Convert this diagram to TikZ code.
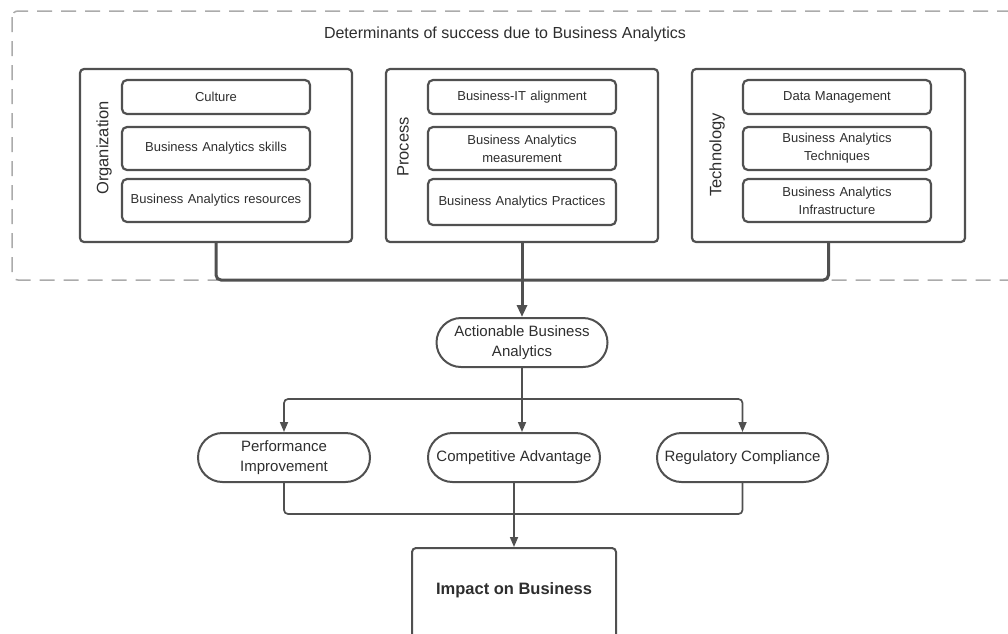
\documentclass[tikz,border=0pt]{standalone}
\usepackage{fontspec}
\setmainfont{Liberation Sans}
\usetikzlibrary{arrows.meta}
\usetikzlibrary{shapes.misc}
\definecolor{linegray}{HTML}{505050}
\definecolor{textgray}{HTML}{2E2E2E}
\definecolor{dashgray}{HTML}{ABABAB}
\tikzset{
  groupbox/.style={draw=linegray, line width=2.2pt, rounded corners=4pt,
    minimum width=#1, minimum height=173pt, inner sep=0pt},
  itembox/.style={draw=linegray, line width=2.2pt, rounded corners=5pt,
    minimum width=188pt, text width=180pt, align=center, inner sep=0pt,
    text=textgray, font=\fontsize{13}{18}\selectfont},
  sidelabel/.style={rotate=90, text=textgray, font=\fontsize{16.5}{19}\selectfont},
  pill/.style={draw=linegray, line width=2pt, rounded rectangle,
    minimum width=#1, minimum height=49pt, inner sep=0pt, align=center,
    text=textgray, font=\fontsize{15}{20.5}\selectfont},
  mainlink/.style={draw=linegray, line width=3pt, rounded corners=5pt,
    -{Triangle[length=12pt,width=10pt]}},
  link/.style={draw=linegray, line width=1.7pt, rounded corners=4pt,
    -{Triangle[length=10pt,width=8pt]}}
}

\begin{document}
\begin{tikzpicture}[x=1pt,y=-1pt]
\useasboundingbox (0,0) rectangle (1008,633);
\draw[dashgray, line width=1.5pt, dash pattern=on 15pt off 9pt, rounded corners=6pt]
(12,11) rectangle (1030,280);
\node at (505,34) [text=textgray, font=\fontsize{16}{19}\selectfont]{Determinants of success due to Business Analytics};

\node (org) at (216,155.5) [groupbox=272pt]{};
\node (proc) at (522,155.5) [groupbox=272pt]{};
\node (tech) at (828.5,155.5) [groupbox=273pt]{};
\node (orglab) at (104,148) [sidelabel]{Organization};
\node (proclab) at (403,147) [sidelabel]{Process};
\node (techlab) at (717,155) [sidelabel]{Technology};

\node (culture) at (216,97) [itembox, minimum height=34pt]{Culture};
\node (skills) at (216,148.5) [itembox, minimum height=43pt]{Business Analytics skills};
\node (resources) at (216,200.5) [itembox, minimum height=43pt]{Business Analytics resources};
\node (align) at (522,97) [itembox, minimum height=34pt]{Business-IT alignment};
\node (measure) at (522,148.5) [itembox, minimum height=43pt]{Business Analytics\\measurement};
\node (practice) at (522,202) [itembox, minimum height=46pt]{Business Analytics Practices};
\node (datamgmt) at (837,97) [itembox, minimum height=34pt]{Data Management};
\node (techniques) at (837,148.5) [itembox, minimum height=43pt]{Business Analytics\\Techniques};
\node (infra) at (837,200.5) [itembox, minimum height=43pt]{Business Analytics\\Infrastructure};

\node (aba) at (522,342.5) [pill=171pt]{Actionable Business\\Analytics};
\node (perf) at (284,457.5) [pill=172pt]{Performance\\Improvement};
\node (comp) at (514,457.5) [pill=172pt]{Competitive Advantage};
\node (reg) at (742.5,457.5) [pill=171pt]{Regulatory Compliance};
\node (impact) at (514,596) [draw=linegray, line width=2pt, rounded corners=4pt,
  minimum width=204pt, minimum height=96pt, text height=12pt, text depth=16pt,
  text=textgray, font=\fontsize{16.5}{19}\selectfont\bfseries]{Impact on Business};

\coordinate (bus) at (522,280);
\coordinate (split) at (522,399);
\coordinate (merge) at (514,514);
\draw[mainlink, -] (org.south) |- (bus) -| (tech.south);
\draw[mainlink] (proc.south) -- (aba.north);
\draw[link, -] (aba.south) -- (split);
\draw[link] (split) -| (perf.north);
\draw[link] (split) -| (reg.north);
\draw[link] (split) -- (split |- comp.north);
\draw[link, -] (perf.south) |- (merge);
\draw[link, -] (reg.south) |- (merge);
\draw[link] (comp.south) -- (impact.north);
\end{tikzpicture}
\end{document}
